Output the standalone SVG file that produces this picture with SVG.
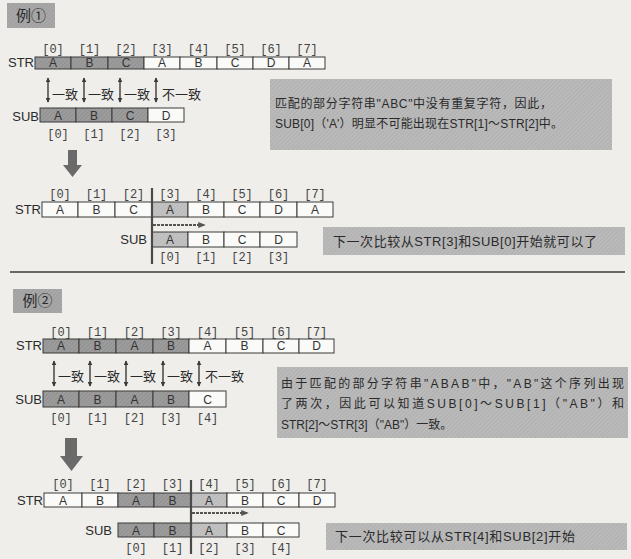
<svg xmlns="http://www.w3.org/2000/svg" width="631" height="559" viewBox="0 0 631 559">
<defs>
<pattern id="hd" width="3" height="3" patternUnits="userSpaceOnUse" patternTransform="rotate(45)"><rect width="3" height="3" fill="#9c9c9c"/><line x1="0" y1="0" x2="0" y2="3" stroke="#878787" stroke-width="1"/></pattern>
<pattern id="hl" width="3" height="3" patternUnits="userSpaceOnUse" patternTransform="rotate(45)"><rect width="3" height="3" fill="#c2c2c2"/><line x1="0" y1="0" x2="0" y2="3" stroke="#b0b0b0" stroke-width="1"/></pattern>
<pattern id="hb" width="3" height="3" patternUnits="userSpaceOnUse" patternTransform="rotate(45)"><rect width="3" height="3" fill="#bababa"/><line x1="0" y1="0" x2="0" y2="3" stroke="#a6a6a6" stroke-width="1"/></pattern>
<pattern id="hk" width="3" height="3" patternUnits="userSpaceOnUse" patternTransform="rotate(45)"><rect width="3" height="3" fill="#a8a8a8"/><line x1="0" y1="0" x2="0" y2="3" stroke="#959595" stroke-width="1"/></pattern>
<marker id="ah" viewBox="0 0 8 8" refX="7" refY="4" markerWidth="5" markerHeight="5" orient="auto-start-reverse" markerUnits="userSpaceOnUse"><path d="M0,0 L8,4 L0,8 Z" fill="#3a3a3a"/></marker>
<marker id="ar" viewBox="0 0 10 8" refX="9" refY="4" markerWidth="8" markerHeight="6" orient="auto" markerUnits="userSpaceOnUse"><path d="M0,0 L10,4 L0,8 Z" fill="#555"/></marker>
</defs>
<style>
text{font-family:"Liberation Sans","Noto Sans CJK SC",sans-serif;fill:#2a2a2a}
.c{fill:#fafaf8;stroke:#3a3a3a;stroke-width:1}
.d{fill:url(#hd);stroke:#3a3a3a;stroke-width:1}
.l{fill:url(#hl);stroke:#3a3a3a;stroke-width:1}
.t{font-size:12px;text-anchor:middle;fill:#333}
.ix{font-family:"Liberation Mono",monospace;font-size:12px;text-anchor:middle;fill:#444}
.lb{font-size:13px;text-anchor:end}
.nb{fill:url(#hb)}
.kb{fill:url(#hk)}
.nt{font-size:12px}
.jt{font-size:13px}
.da{stroke:#3a3a3a;stroke-width:1.4;fill:none;marker-start:url(#ah);marker-end:url(#ah)}
.vl{stroke:#4a4a4a;stroke-width:2.2}
.ha{stroke:#555;stroke-width:2;stroke-dasharray:3 1;fill:none;marker-end:url(#ar)}
.big{fill:#6a6a6a}
</style>
<rect width="631" height="559" fill="#efeeea"/>

<g id="ex1-label"><rect class="kb" x="7" y="3" width="48" height="25"/><text x="31" y="21" style="font-size:15px;text-anchor:middle">例①</text></g>

<g id="ex1-str">
<text class="lb" x="34" y="67">STR</text>
<rect class="d" x="35" y="57" width="36" height="12"/><rect class="d" x="71" y="57" width="37" height="12"/><rect class="d" x="108" y="57" width="36" height="12"/><rect class="c" x="144" y="57" width="36" height="12"/><rect class="c" x="180" y="57" width="37" height="12"/><rect class="c" x="217" y="57" width="36" height="12"/><rect class="c" x="253" y="57" width="36" height="12"/><rect class="c" x="289" y="57" width="36" height="12"/>
<text class="t" x="53" y="67">A</text><text class="t" x="89.5" y="67">B</text><text class="t" x="126" y="67">C</text><text class="t" x="162" y="67">A</text><text class="t" x="198.5" y="67">B</text><text class="t" x="235" y="67">C</text><text class="t" x="271" y="67">D</text><text class="t" x="307" y="67">A</text>
<text class="ix" x="53" y="53">[0]</text><text class="ix" x="89.5" y="53">[1]</text><text class="ix" x="126" y="53">[2]</text><text class="ix" x="162" y="53">[3]</text><text class="ix" x="198.5" y="53">[4]</text><text class="ix" x="235" y="53">[5]</text><text class="ix" x="271" y="53">[6]</text><text class="ix" x="307" y="53">[7]</text>
</g>

<g id="ex1-sub">
<text class="lb" x="39" y="121">SUB</text>
<rect class="d" x="40" y="108" width="36" height="14"/><rect class="d" x="76" y="108" width="36" height="14"/><rect class="d" x="112" y="108" width="36" height="14"/><rect class="c" x="148" y="108" width="36" height="14"/>
<text class="t" x="58" y="119.5">A</text><text class="t" x="94" y="119.5">B</text><text class="t" x="130" y="119.5">C</text><text class="t" x="166" y="119.5">D</text>
<text class="ix" x="58" y="138">[0]</text><text class="ix" x="94" y="138">[1]</text><text class="ix" x="130" y="138">[2]</text><text class="ix" x="166" y="138">[3]</text>
</g>

<g id="ex1-note1"><rect class="nb" x="270" y="79" width="342" height="71"/>
<text class="nt" x="275" y="108" textLength="277" lengthAdjust="spacing">匹配的部分字符串"ABC"中没有重复字符，因此，</text>
<text class="nt" x="275" y="128" textLength="288" lengthAdjust="spacing">SUB[0]（'A'）明显不可能出现在STR[1]～STR[2]中。</text></g>

<g id="ex1-arrow"><path class="big" d="M68,150 H77 V165 H82 L72.5,177 L63,165 H68 Z"/></g>

<g id="ex1-str2">
<text class="lb" x="41" y="214">STR</text>
<rect class="c" x="42" y="202" width="36" height="15"/><rect class="c" x="78" y="202" width="37" height="15"/><rect class="c" x="115" y="202" width="37" height="15"/><rect class="l" x="152" y="202" width="36" height="15"/><rect class="c" x="188" y="202" width="36" height="15"/><rect class="c" x="224" y="202" width="36" height="15"/><rect class="c" x="260" y="202" width="37" height="15"/><rect class="c" x="297" y="202" width="36" height="15"/>
<text class="t" x="60" y="214">A</text><text class="t" x="96.5" y="214">B</text><text class="t" x="133.5" y="214">C</text><text class="t" x="170" y="214">A</text><text class="t" x="206" y="214">B</text><text class="t" x="242" y="214">C</text><text class="t" x="278.5" y="214">D</text><text class="t" x="315" y="214">A</text>
<text class="ix" x="60" y="198">[0]</text><text class="ix" x="96.5" y="198">[1]</text><text class="ix" x="133.5" y="198">[2]</text><text class="ix" x="170" y="198">[3]</text><text class="ix" x="206" y="198">[4]</text><text class="ix" x="242" y="198">[5]</text><text class="ix" x="278.5" y="198">[6]</text><text class="ix" x="315" y="198">[7]</text>
</g>

<g id="ex1-sub2">
<text class="lb" x="147" y="244">SUB</text>
<rect class="l" x="152" y="232" width="36" height="15"/><rect class="c" x="188" y="232" width="36" height="15"/><rect class="c" x="224" y="232" width="36" height="15"/><rect class="c" x="260" y="232" width="37" height="15"/>
<text class="t" x="170" y="244">A</text><text class="t" x="206" y="244">B</text><text class="t" x="242" y="244">C</text><text class="t" x="278.5" y="244">D</text>
<text class="ix" x="170" y="261">[0]</text><text class="ix" x="206" y="261">[1]</text><text class="ix" x="242" y="261">[2]</text><text class="ix" x="278.5" y="261">[3]</text>
</g>

<g id="ex1-note2"><rect class="nb" x="323" y="227" width="302" height="28"/>
<text class="jt" x="333" y="246" textLength="264" lengthAdjust="spacing">下一次比较从STR[3]和SUB[0]开始就可以了</text></g>

<g id="ex2-label"><rect class="kb" x="13" y="289" width="49" height="24"/><text x="37.5" y="306" style="font-size:15px;text-anchor:middle">例②</text></g>

<g id="ex2-str">
<text class="lb" x="42" y="350">STR</text>
<rect class="d" x="43" y="339" width="36" height="14"/><rect class="d" x="79" y="339" width="37" height="14"/><rect class="d" x="116" y="339" width="37" height="14"/><rect class="d" x="153" y="339" width="36" height="14"/><rect class="c" x="189" y="339" width="37" height="14"/><rect class="c" x="226" y="339" width="37" height="14"/><rect class="c" x="263" y="339" width="36" height="14"/><rect class="c" x="299" y="339" width="35" height="14"/>
<text class="t" x="61" y="350">A</text><text class="t" x="97.5" y="350">B</text><text class="t" x="134.5" y="350">A</text><text class="t" x="171" y="350">B</text><text class="t" x="207.5" y="350">A</text><text class="t" x="244.5" y="350">B</text><text class="t" x="281" y="350">C</text><text class="t" x="316.5" y="350">D</text>
<text class="ix" x="61" y="336">[0]</text><text class="ix" x="97.5" y="336">[1]</text><text class="ix" x="134.5" y="336">[2]</text><text class="ix" x="171" y="336">[3]</text><text class="ix" x="207.5" y="336">[4]</text><text class="ix" x="244.5" y="336">[5]</text><text class="ix" x="281" y="336">[6]</text><text class="ix" x="316.5" y="336">[7]</text>
</g>

<g id="ex2-sub">
<text class="lb" x="42" y="404">SUB</text>
<rect class="d" x="43" y="391" width="36" height="16"/><rect class="d" x="79" y="391" width="37" height="16"/><rect class="d" x="116" y="391" width="37" height="16"/><rect class="d" x="153" y="391" width="36" height="16"/><rect class="c" x="189" y="391" width="37" height="16"/>
<text class="t" x="61" y="403.5">A</text><text class="t" x="97.5" y="403.5">B</text><text class="t" x="134.5" y="403.5">A</text><text class="t" x="171" y="403.5">B</text><text class="t" x="207.5" y="403.5">C</text>
<text class="ix" x="61" y="422">[0]</text><text class="ix" x="97.5" y="422">[1]</text><text class="ix" x="134.5" y="422">[2]</text><text class="ix" x="171" y="422">[3]</text><text class="ix" x="207.5" y="422">[4]</text>
</g>

<g id="ex2-note1"><rect class="nb" x="277" y="367" width="351" height="71"/>
<text class="nt" x="281" y="388" textLength="343" lengthAdjust="spacing">由于匹配的部分字符串"ABAB"中，"AB"这个序列出现</text>
<text class="nt" x="281" y="408" textLength="343" lengthAdjust="spacing">了两次，因此可以知道SUB[0]～SUB[1]（"AB"）和</text>
<text class="nt" x="281" y="429">STR[2]～STR[3]（"AB"）一致。</text></g>

<g id="ex2-arrow"><path class="big" d="M65,438 H77 V456 H83 L71.5,471 L60,456 H65 Z"/></g>

<g id="ex2-str2">
<text class="lb" x="43" y="505">STR</text>
<rect class="c" x="44" y="493" width="38" height="14"/><rect class="c" x="82" y="493" width="36" height="14"/><rect class="d" x="118" y="493" width="36" height="14"/><rect class="d" x="154" y="493" width="37" height="14"/><rect class="l" x="191" y="493" width="36" height="14"/><rect class="c" x="227" y="493" width="36" height="14"/><rect class="c" x="263" y="493" width="36" height="14"/><rect class="c" x="299" y="493" width="36" height="14"/>
<text class="t" x="63" y="504.5">A</text><text class="t" x="100" y="504.5">B</text><text class="t" x="136" y="504.5">A</text><text class="t" x="172.5" y="504.5">B</text><text class="t" x="209" y="504.5">A</text><text class="t" x="245" y="504.5">B</text><text class="t" x="281" y="504.5">C</text><text class="t" x="317" y="504.5">D</text>
<text class="ix" x="63" y="488">[0]</text><text class="ix" x="100" y="488">[1]</text><text class="ix" x="136" y="488">[2]</text><text class="ix" x="172.5" y="488">[3]</text><text class="ix" x="209" y="488">[4]</text><text class="ix" x="245" y="488">[5]</text><text class="ix" x="281" y="488">[6]</text><text class="ix" x="317" y="488">[7]</text>
</g>

<g id="ex2-sub2">
<text class="lb" x="112" y="535">SUB</text>
<rect class="d" x="118" y="523" width="36" height="14"/><rect class="d" x="154" y="523" width="37" height="14"/><rect class="l" x="191" y="523" width="36" height="14"/><rect class="c" x="227" y="523" width="36" height="14"/><rect class="c" x="263" y="523" width="36" height="14"/>
<text class="t" x="136" y="534.5">A</text><text class="t" x="172.5" y="534.5">B</text><text class="t" x="209" y="534.5">A</text><text class="t" x="245" y="534.5">B</text><text class="t" x="281" y="534.5">C</text>
<text class="ix" x="136" y="552">[0]</text><text class="ix" x="172.5" y="552">[1]</text><text class="ix" x="209" y="552">[2]</text><text class="ix" x="245" y="552">[3]</text><text class="ix" x="281" y="552">[4]</text>
</g>

<g id="ex2-note2"><rect class="nb" x="326" y="523" width="301" height="27"/>
<text class="jt" x="335" y="541" textLength="240" lengthAdjust="spacing">下一次比较可以从STR[4]和SUB[2]开始</text></g>

<g id="connectors">
<line class="da" x1="48" y1="78" x2="48" y2="102"/><line class="da" x1="84" y1="78" x2="84" y2="102"/><line class="da" x1="120" y1="78" x2="120" y2="102"/><line class="da" x1="156" y1="78" x2="156" y2="102"/>
<text class="jt" x="52" y="99">一致</text><text class="jt" x="88" y="99">一致</text><text class="jt" x="124" y="99">一致</text><text class="jt" x="162" y="99">不一致</text>
<line class="vl" x1="152" y1="188" x2="152" y2="264"/>
<line class="ha" x1="153" y1="225" x2="205" y2="225"/>
<line x1="10" y1="272" x2="625" y2="272" stroke="#3a3a3a" stroke-width="1.5"/>
<line class="da" x1="54" y1="361" x2="54" y2="386"/><line class="da" x1="90" y1="361" x2="90" y2="386"/><line class="da" x1="126" y1="361" x2="126" y2="386"/><line class="da" x1="163" y1="361" x2="163" y2="386"/><line class="da" x1="199" y1="361" x2="199" y2="386"/>
<text class="jt" x="58" y="381">一致</text><text class="jt" x="94" y="381">一致</text><text class="jt" x="130" y="381">一致</text><text class="jt" x="167" y="381">一致</text><text class="jt" x="205" y="381">不一致</text>
<line class="vl" x1="191" y1="480" x2="191" y2="554"/>
<line class="ha" x1="192" y1="513" x2="248" y2="513"/>
</g>
</svg>
